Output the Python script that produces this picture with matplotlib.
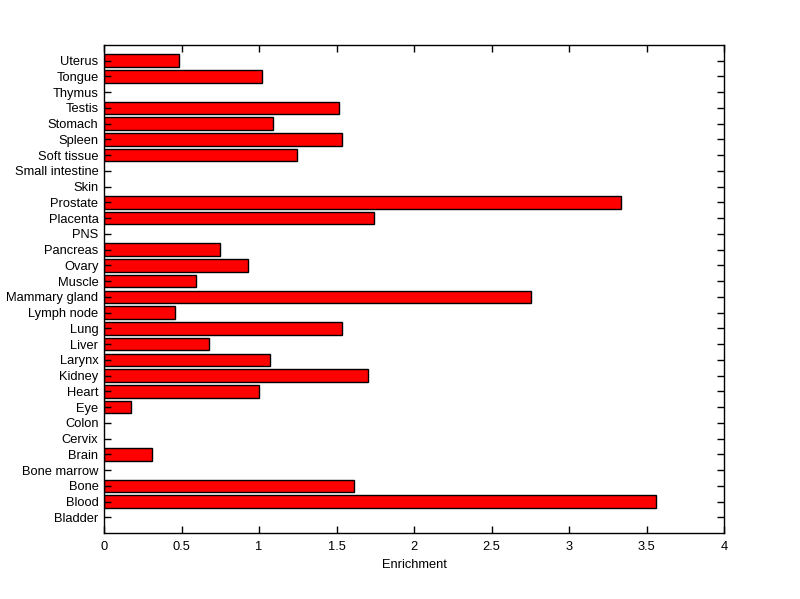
import numpy as np
import matplotlib
matplotlib.use('Agg')
from matplotlib import pyplot as plt

tissues = ['Bladder', 'Blood', 'Bone', 'Bone marrow', 'Brain', 'Cervix', 'Colon',
           'Eye', 'Heart', 'Kidney', 'Larynx', 'Liver', 'Lung', 'Lymph node',
           'Mammary gland', 'Muscle', 'Ovary', 'Pancreas', 'PNS', 'Placenta',
           'Prostate', 'Skin', 'Small intestine', 'Soft tissue', 'Spleen',
           'Stomach', 'Testis', 'Thymus', 'Tongue', 'Uterus']
enrichment = [0, 3.564, 1.614, 0, 0.310, 0, 0,
              0.177, 1.001, 1.704, 1.072, 0.678, 1.537, 0.461,
              2.752, 0.594, 0.930, 0.749, 0, 1.745,
              3.335, 0, 0, 1.246, 1.537,
              1.093, 1.517, 0, 1.022, 0.484]

plt.rcParams['font.family'] = ['Liberation Sans', 'DejaVu Sans']
plt.rcParams['font.size'] = 9.3

fig = plt.figure(figsize=(8, 5.99), dpi=100)
ax = fig.add_axes([0.13, 0.11, 0.775, 0.815])

pos = np.arange(1, len(tissues) + 1)
vals = np.array(enrichment)
nz = vals > 0
ax.barh(pos[nz], vals[nz], height=0.8, color='#ff0000', edgecolor='black', linewidth=1)

ax.set_xlim(0, 4)
ax.set_ylim(0, len(tissues) + 1)
ax.set_yticks(pos)
ax.set_yticklabels(tissues)
ax.set_xticks(np.arange(0, 4.01, 0.5))
ax.set_xticklabels(['0', '0.5', '1', '1.5', '2', '2.5', '3', '3.5', '4'])
ax.tick_params(direction='in', top=True, right=True, length=5, width=1)
ax.tick_params(axis='x', pad=6)
ax.tick_params(axis='y', pad=4)
for s in ax.spines.values():
    s.set_linewidth(1)
ax.set_xlabel('Enrichment', labelpad=4)

plt.savefig('out.png', dpi=100)
